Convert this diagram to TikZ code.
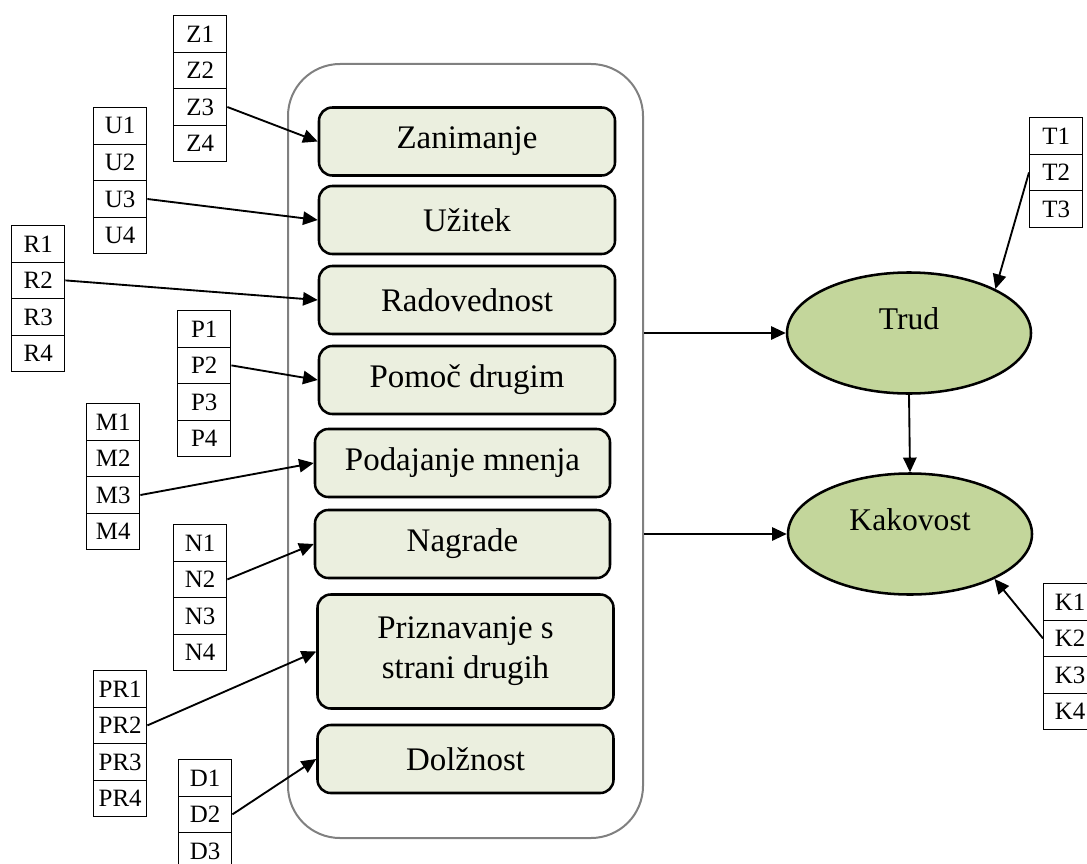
\documentclass[tikz,border=0pt]{standalone}
\usepackage{fontspec}
\setmainfont{Liberation Serif}
\usetikzlibrary{arrows.meta,shapes.geometric}
\definecolor{boxfill}{RGB}{235,239,223}
\definecolor{ellfill}{RGB}{195,214,155}
\definecolor{outergray}{RGB}{128,128,128}
\tikzset{
  cell/.style={draw=black, line width=0.8pt, fill=white, inner sep=0pt,
    minimum width=40pt, minimum height=27.4pt, anchor=north west,
    font=\fontsize{18.7}{20}\selectfont},
  factor/.style={draw=black, line width=1.9pt, fill=boxfill, rounded corners=10pt,
    inner sep=0pt, minimum width=222pt, minimum height=51pt,
    font=\fontsize{24.7}{30}\selectfont, align=center},
  latent/.style={ellipse, draw=black, line width=1.9pt, fill=ellfill, inner sep=0pt,
    minimum width=183pt, minimum height=90.75pt},
  ltext/.style={font=\fontsize{23.7}{28}\selectfont},
  conn/.style={line width=1.4pt, -{Triangle[length=11pt,width=10pt]}},
}
\newcommand\cellstack[3]{%
  \foreach \t [count=\i] in {#3} {\node[cell] (\t) at (#1, {#2+(\i-1)*36.6}) {\t};}}
\begin{document}
\begin{tikzpicture}[x=0.75pt, y=-0.75pt]
\useasboundingbox (0,0) rectangle (1087,863);
% outer container
\node[draw=outergray, line width=1.5pt, rounded corners=39pt, inner sep=0pt,
  minimum width=266.25pt, minimum height=580.5pt] (outer) at (465.5,451) {};
% factor boxes
\node[factor] (zan) at (467,141.5) {Zanimanje};
\node[factor] (uzi) at (467,220) {Užitek};
\node[factor] (rad) at (467,300) {Radovednost};
\node[factor] (pom) at (467,380) {Pomoč drugim};
\node[factor, minimum width=221.25pt] (pod) at (462.5,463) {Podajanje mnenja};
\node[factor, minimum width=221.25pt] (nag) at (462.5,544) {Nagrade};
\node[factor, minimum height=85.5pt] (pri) at (465.5,651.5) {Priznavanje s\\strani drugih};
\node[factor] (dol) at (465.5,759) {Dolžnost};
% latent ellipses
\node[latent, label={[ltext, yshift=10.9pt]center:Trud}] (trud) at (909,333) {};
\node[latent, label={[ltext, yshift=10.5pt]center:Kakovost}] (kak) at (910,534) {};
% indicator stacks
\cellstack{173}{15}{Z1,Z2,Z3,Z4}
\cellstack{93}{107}{U1,U2,U3,U4}
\cellstack{11}{225}{R1,R2,R3,R4}
\cellstack{177}{310}{P1,P2,P3,P4}
\cellstack{86}{403}{M1,M2,M3,M4}
\cellstack{173}{524}{N1,N2,N3,N4}
\cellstack{93}{670}{PR1,PR2,PR3,PR4}
\cellstack{178}{759}{D1,D2,D3}
\cellstack{1029}{117}{T1,T2,T3}
\cellstack{1043}{583}{K1,K2,K3,K4}
% connectors
\draw[conn] (Z3.east) -- (zan.west);
\draw[conn] (U3.east) -- (uzi.west);
\draw[conn] (R2.east) -- (rad.west);
\draw[conn] (P2.east) -- (pom.west);
\draw[conn] (M3.east) -- (pod.west);
\draw[conn] (N2.east) -- (nag.west);
\draw[conn] (PR2.east) -- (pri.west);
\draw[conn] (D2.east) -- (dol.west);
\draw[conn] (outer.east |- trud.west) -- (trud.west);
\draw[conn] (outer.east |- kak.west) -- (kak.west);
\draw[conn] (trud.south) -- (kak.north);
\draw[conn] (T2.west) -- (trud.27);
\draw[conn] (K2.west) -- (kak.-28);
\end{tikzpicture}
\end{document}
